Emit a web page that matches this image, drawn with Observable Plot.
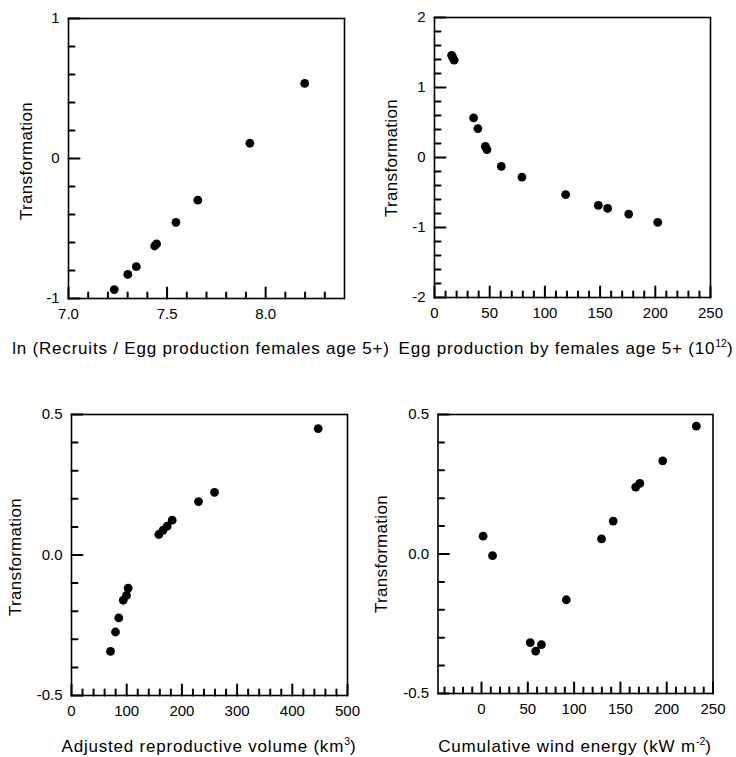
<!DOCTYPE html>
<html><head><meta charset="utf-8">
<script src="https://cdn.jsdelivr.net/npm/d3@7"></script>
<script src="https://cdn.jsdelivr.net/npm/@observablehq/plot@0.6"></script>
<style>
html,body{margin:0;padding:0;background:#fff;}
#wrap{position:relative;width:736px;height:757px;overflow:hidden;font-family:"Liberation Sans",Arial,Helvetica,sans-serif;color:#000;background:#fff;}
.panel{position:absolute;}
.title{position:absolute;white-space:nowrap;font-size:17px;letter-spacing:0.8px;line-height:1;transform:translate(-50%,-50%);}
.ytitle{position:absolute;white-space:nowrap;font-size:17px;letter-spacing:0.3px;line-height:1;transform:translate(-50%,-50%) rotate(-90deg);}
sup{font-size:0.62em;line-height:0;vertical-align:0.6em;letter-spacing:0;}
</style></head><body><div id="wrap"></div>
<script>
// ---- Panel 1: ln(Recruits / Egg production) ----
const p1X = [7.232, 7.301, 7.344, 7.437, 7.447, 7.545, 7.656, 7.920, 8.198];
const p1Y = [-0.936, -0.828, -0.773, -0.625, -0.610, -0.456, -0.298, 0.109, 0.536];
const p1XTicks = [7.0, 7.5, 8.0];
const p1YTicks = [-1, 0, 1];

// ---- Panel 2: Egg production by females age 5+ ----
const p2X = [15.5, 16.5, 17.8, 35.4, 39.3, 46.0, 47.5, 60.5, 79.2, 118.8, 148.4, 156.8, 175.9, 202.2];
const p2Y = [1.46, 1.43, 1.39, 0.565, 0.413, 0.16, 0.113, -0.126, -0.279, -0.53, -0.684, -0.727, -0.808, -0.927];
const p2XTicks = [0, 50, 100, 150, 200, 250];
const p2YTicks = [-2, -1, 0, 1, 2];

// ---- Panel 3: Adjusted reproductive volume ----
const p3X = [70.7, 79.7, 85.7, 93.7, 99.6, 102.7, 158.2, 165.8, 173.4, 182.4, 230.1, 259.1, 446.9];
const p3Y = [-0.343, -0.274, -0.224, -0.161, -0.144, -0.118, 0.073, 0.088, 0.103, 0.124, 0.190, 0.223, 0.450];
const p3XTicks = [0, 100, 200, 300, 400, 500];
const p3YTicks = [-0.5, 0.0, 0.5];

// ---- Panel 4: Cumulative wind energy ----
const p4X = [1.7, 11.9, 52.6, 58.5, 64.7, 91.6, 129.6, 142.2, 166.5, 171.0, 195.7, 232.0];
const p4Y = [0.064, -0.006, -0.318, -0.348, -0.325, -0.164, 0.054, 0.118, 0.240, 0.253, 0.334, 0.458];
const p4XTicks = [0, 50, 100, 150, 200, 250];
const p4YTicks = [-0.5, 0.0, 0.5];

const yTitle = "Transformation";

function minorTicks(domain, step, majors) {
  const out = [];
  for (let k = Math.ceil(domain[0] / step - 1e-6); k * step <= domain[1] + 1e-9; k++) {
    const v = +(k * step).toFixed(6);
    if (v <= domain[0] + 1e-9 || v >= domain[1] - 1e-9) continue;
    if (majors.some(m => Math.abs(m - v) < 1e-6)) continue;
    out.push(v);
  }
  return out;
}
const hy = s => s.replace("\u2212", "-");
const fmtInt = d => hy(String(d));
const fmt1 = d => hy(d3.format(".1f")(d));
// straight inward tick line of pixel length l
const tickShape = {draw(context, l) { context.moveTo(0, 0); context.lineTo(0, -l); }};

function panel(o) {
  const data = o.xs.map((x, i) => ({x, y: o.ys[i]}));
  const xMinor = minorTicks(o.xDomain, o.xStep, o.xMajor);
  const yMinor = minorTicks(o.yDomain, o.yStep, o.yMajor);
  const x0 = o.xDomain[0], y0 = o.yDomain[0];
  const vx = (t, len, sw) => Plot.vector(t, {x: d => d, y: y0, length: len, rotate: 0, anchor: "start", shape: tickShape, stroke: "black", strokeWidth: sw});
  const vy = (t, len, sw) => Plot.vector(t, {x: x0, y: d => d, length: len, rotate: 90, anchor: "start", shape: tickShape, stroke: "black", strokeWidth: sw});
  const svg = Plot.plot({
    width: o.width, height: o.height,
    marginLeft: o.ml, marginRight: o.mr, marginTop: o.mt, marginBottom: o.mb,
    x: {domain: o.xDomain}, y: {domain: o.yDomain},
    style: {fontFamily: '"Liberation Sans", Arial, Helvetica, sans-serif', fontSize: "15px", color: "black", background: "transparent", overflow: "visible"},
    marks: [
      vx(xMinor, 6, 2), vx(o.xMajor, 11, 2),
      vy(yMinor, 6, 2), vy(o.yMajor, 11, 2),
      Plot.frame({stroke: "black", strokeWidth: 1.6}),
      Plot.axisX({ticks: o.xMajor, tickSize: 0, tickPadding: 10, tickFormat: o.xFmt, label: null}),
      Plot.axisY({ticks: o.yMajor, tickSize: 0, tickPadding: 9, tickFormat: o.yFmt, label: null}),
      Plot.dot(data, {x: "x", y: "y", r: 4.4, fill: "black", stroke: "none"})
    ]
  });
  svg.classList.add("panel");
  svg.style.left = o.left + "px";
  svg.style.top = o.top + "px";
  document.getElementById("wrap").appendChild(svg);
}

panel({xs: p1X, ys: p1Y, xDomain: [7.0, 8.4], yDomain: [-1, 1], xMajor: p1XTicks, yMajor: p1YTicks,
  xStep: 0.1, yStep: 0.2, xFmt: fmt1, yFmt: fmtInt,
  left: 0, top: 0, width: 368, height: 378, ml: 68, mr: 24, mt: 18, mb: 80});
panel({xs: p2X, ys: p2Y, xDomain: [0, 250], yDomain: [-2, 2], xMajor: p2XTicks, yMajor: p2YTicks,
  xStep: 10, yStep: 0.2, xFmt: fmtInt, yFmt: fmtInt,
  left: 368, top: 0, width: 368, height: 378, ml: 66, mr: 26, mt: 17, mb: 81});
panel({xs: p3X, ys: p3Y, xDomain: [0, 500], yDomain: [-0.5, 0.5], xMajor: p3XTicks, yMajor: p3YTicks,
  xStep: 20, yStep: 0.1, xFmt: fmtInt, yFmt: fmt1,
  left: 0, top: 378, width: 368, height: 379, ml: 71, mr: 21, mt: 36, mb: 62});
panel({xs: p4X, ys: p4Y, xDomain: [-47, 250], yDomain: [-0.5, 0.5], xMajor: p4XTicks, yMajor: p4YTicks,
  xStep: 10, yStep: 0.1, xFmt: fmtInt, yFmt: fmt1,
  left: 368, top: 378, width: 368, height: 379, ml: 69.5, mr: 23.5, mt: 36, mb: 64});

function addText(cls, html, x, y) {
  const d = document.createElement("div");
  d.className = cls;
  d.innerHTML = html;
  d.style.left = x + "px";
  d.style.top = y + "px";
  document.getElementById("wrap").appendChild(d);
}
addText("title", "ln (Recruits / Egg production females age 5+)", 201, 348);
addText("title", "Egg production by females age 5+ (10<sup>12</sup>)", 566, 348);
addText("title", "Adjusted reproductive volume (km<sup>3</sup>)", 209, 746);
addText("title", "Cumulative wind energy (kW m<sup>-2</sup>)", 575, 746);
addText("ytitle", yTitle, 26, 161);
addText("ytitle", yTitle, 391, 158);
addText("ytitle", yTitle, 15, 557);
addText("ytitle", yTitle, 381, 554);
</script>
</body></html>
